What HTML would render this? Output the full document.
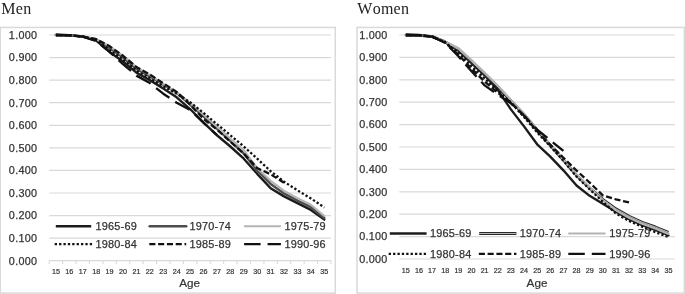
<!DOCTYPE html>
<html lang="en"><head><meta charset="utf-8"><title>Men / Women</title>
<style>
html,body{margin:0;padding:0;background:#fff;}
body{width:685px;height:294px;overflow:hidden;}
svg{display:block}
.t{font-family:"Liberation Serif",serif;font-size:16px;fill:#222;font-kerning:none;letter-spacing:0.25px;}
.yl{font-family:"Liberation Sans",sans-serif;font-size:10.8px;fill:#333;letter-spacing:0.3px;stroke:#333;stroke-width:0.25px;}
.al{font-family:"Liberation Sans",sans-serif;font-size:7.2px;fill:#333;stroke:#333;stroke-width:0.2px;}
.at{font-family:"Liberation Sans",sans-serif;font-size:11.7px;fill:#333;stroke:#333;stroke-width:0.2px;}
.lg{font-family:"Liberation Sans",sans-serif;font-size:10.9px;fill:#333;stroke:#333;stroke-width:0.25px;letter-spacing:0.2px;}
</style></head><body>
<svg width="685" height="294" viewBox="0 0 685 294">
<rect width="685" height="294" fill="#fff"/>
<text x="1.3" y="13.6" class="t">Men</text>
<text x="357.3" y="13.7" class="t">Women</text>
<rect x="0.3" y="27.45" width="335.0" height="265.65000000000003" fill="#fff" stroke="#d9d9d9" stroke-width="1.5"/>
<line x1="49.2" y1="35.00" x2="331.0" y2="35.00" stroke="#d9d9d9" stroke-width="1.2"/>
<text x="37.4" y="38.85" text-anchor="end" class="yl">1.000</text>
<line x1="49.2" y1="57.57" x2="331.0" y2="57.57" stroke="#d9d9d9" stroke-width="1.2"/>
<text x="37.4" y="61.42" text-anchor="end" class="yl">0.900</text>
<line x1="49.2" y1="80.14" x2="331.0" y2="80.14" stroke="#d9d9d9" stroke-width="1.2"/>
<text x="37.4" y="83.99" text-anchor="end" class="yl">0.800</text>
<line x1="49.2" y1="102.71" x2="331.0" y2="102.71" stroke="#d9d9d9" stroke-width="1.2"/>
<text x="37.4" y="106.56" text-anchor="end" class="yl">0.700</text>
<line x1="49.2" y1="125.28" x2="331.0" y2="125.28" stroke="#d9d9d9" stroke-width="1.2"/>
<text x="37.4" y="129.13" text-anchor="end" class="yl">0.600</text>
<line x1="49.2" y1="147.85" x2="331.0" y2="147.85" stroke="#d9d9d9" stroke-width="1.2"/>
<text x="37.4" y="151.70" text-anchor="end" class="yl">0.500</text>
<line x1="49.2" y1="170.42" x2="331.0" y2="170.42" stroke="#d9d9d9" stroke-width="1.2"/>
<text x="37.4" y="174.27" text-anchor="end" class="yl">0.400</text>
<line x1="49.2" y1="192.99" x2="331.0" y2="192.99" stroke="#d9d9d9" stroke-width="1.2"/>
<text x="37.4" y="196.84" text-anchor="end" class="yl">0.300</text>
<line x1="49.2" y1="215.56" x2="331.0" y2="215.56" stroke="#d9d9d9" stroke-width="1.2"/>
<text x="37.4" y="219.41" text-anchor="end" class="yl">0.200</text>
<line x1="49.2" y1="238.13" x2="331.0" y2="238.13" stroke="#d9d9d9" stroke-width="1.2"/>
<text x="37.4" y="241.98" text-anchor="end" class="yl">0.100</text>
<line x1="49.2" y1="260.70" x2="331.0" y2="260.70" stroke="#d9d9d9" stroke-width="1.2"/>
<text x="37.4" y="264.55" text-anchor="end" class="yl">0.000</text>
<line x1="49.20" y1="260.7" x2="49.20" y2="263.9" stroke="#d9d9d9" stroke-width="1.1"/>
<line x1="62.62" y1="260.7" x2="62.62" y2="263.9" stroke="#d9d9d9" stroke-width="1.1"/>
<line x1="76.04" y1="260.7" x2="76.04" y2="263.9" stroke="#d9d9d9" stroke-width="1.1"/>
<line x1="89.46" y1="260.7" x2="89.46" y2="263.9" stroke="#d9d9d9" stroke-width="1.1"/>
<line x1="102.88" y1="260.7" x2="102.88" y2="263.9" stroke="#d9d9d9" stroke-width="1.1"/>
<line x1="116.30" y1="260.7" x2="116.30" y2="263.9" stroke="#d9d9d9" stroke-width="1.1"/>
<line x1="129.71" y1="260.7" x2="129.71" y2="263.9" stroke="#d9d9d9" stroke-width="1.1"/>
<line x1="143.13" y1="260.7" x2="143.13" y2="263.9" stroke="#d9d9d9" stroke-width="1.1"/>
<line x1="156.55" y1="260.7" x2="156.55" y2="263.9" stroke="#d9d9d9" stroke-width="1.1"/>
<line x1="169.97" y1="260.7" x2="169.97" y2="263.9" stroke="#d9d9d9" stroke-width="1.1"/>
<line x1="183.39" y1="260.7" x2="183.39" y2="263.9" stroke="#d9d9d9" stroke-width="1.1"/>
<line x1="196.81" y1="260.7" x2="196.81" y2="263.9" stroke="#d9d9d9" stroke-width="1.1"/>
<line x1="210.23" y1="260.7" x2="210.23" y2="263.9" stroke="#d9d9d9" stroke-width="1.1"/>
<line x1="223.65" y1="260.7" x2="223.65" y2="263.9" stroke="#d9d9d9" stroke-width="1.1"/>
<line x1="237.07" y1="260.7" x2="237.07" y2="263.9" stroke="#d9d9d9" stroke-width="1.1"/>
<line x1="250.49" y1="260.7" x2="250.49" y2="263.9" stroke="#d9d9d9" stroke-width="1.1"/>
<line x1="263.90" y1="260.7" x2="263.90" y2="263.9" stroke="#d9d9d9" stroke-width="1.1"/>
<line x1="277.32" y1="260.7" x2="277.32" y2="263.9" stroke="#d9d9d9" stroke-width="1.1"/>
<line x1="290.74" y1="260.7" x2="290.74" y2="263.9" stroke="#d9d9d9" stroke-width="1.1"/>
<line x1="304.16" y1="260.7" x2="304.16" y2="263.9" stroke="#d9d9d9" stroke-width="1.1"/>
<line x1="317.58" y1="260.7" x2="317.58" y2="263.9" stroke="#d9d9d9" stroke-width="1.1"/>
<line x1="331.00" y1="260.7" x2="331.00" y2="263.9" stroke="#d9d9d9" stroke-width="1.1"/>
<text x="55.91" y="274.2" text-anchor="middle" class="al">15</text>
<text x="69.33" y="274.2" text-anchor="middle" class="al">16</text>
<text x="82.75" y="274.2" text-anchor="middle" class="al">17</text>
<text x="96.17" y="274.2" text-anchor="middle" class="al">18</text>
<text x="109.59" y="274.2" text-anchor="middle" class="al">19</text>
<text x="123.00" y="274.2" text-anchor="middle" class="al">20</text>
<text x="136.42" y="274.2" text-anchor="middle" class="al">21</text>
<text x="149.84" y="274.2" text-anchor="middle" class="al">22</text>
<text x="163.26" y="274.2" text-anchor="middle" class="al">23</text>
<text x="176.68" y="274.2" text-anchor="middle" class="al">24</text>
<text x="190.10" y="274.2" text-anchor="middle" class="al">25</text>
<text x="203.52" y="274.2" text-anchor="middle" class="al">26</text>
<text x="216.94" y="274.2" text-anchor="middle" class="al">27</text>
<text x="230.36" y="274.2" text-anchor="middle" class="al">28</text>
<text x="243.78" y="274.2" text-anchor="middle" class="al">29</text>
<text x="257.20" y="274.2" text-anchor="middle" class="al">30</text>
<text x="270.61" y="274.2" text-anchor="middle" class="al">31</text>
<text x="284.03" y="274.2" text-anchor="middle" class="al">32</text>
<text x="297.45" y="274.2" text-anchor="middle" class="al">33</text>
<text x="310.87" y="274.2" text-anchor="middle" class="al">34</text>
<text x="324.29" y="274.2" text-anchor="middle" class="al">35</text>
<text x="189.7" y="287.4" text-anchor="middle" class="at">Age</text>
<path d="M55.91 35.00 L69.33 35.23 L82.75 36.58 L96.17 40.64 L109.59 51.93 L123.00 61.41 L136.42 72.69 L149.84 80.14 L163.26 88.49 L176.68 97.29 L190.10 109.03 L203.52 122.57 L216.94 135.21 L230.36 146.50 L243.78 158.68 L257.20 173.81 L270.61 188.25 L284.03 196.38 L297.45 203.15 L310.87 209.92 L324.29 219.62" fill="none" stroke="#1c1c1c" stroke-width="2.4" stroke-linejoin="round" stroke-linecap="round"/>
<path d="M55.91 35.00 L69.33 35.23 L82.75 36.58 L96.17 39.51 L109.59 48.09 L123.00 57.57 L136.42 68.85 L149.84 76.30 L163.26 84.65 L176.68 92.78 L190.10 104.52 L203.52 116.25 L216.94 128.67 L230.36 141.08 L243.78 153.49 L257.20 170.42 L270.61 183.96 L284.03 193.44 L297.45 200.66 L310.87 207.21 L324.29 218.04" fill="none" stroke="#4d4d4d" stroke-width="2.5" stroke-linejoin="round" stroke-linecap="round"/>
<path d="M55.91 35.00 L69.33 35.23 L82.75 36.58 L96.17 39.06 L109.59 46.28 L123.00 55.76 L136.42 67.05 L149.84 74.95 L163.26 84.20 L176.68 92.33 L190.10 103.16 L203.52 114.45 L216.94 126.63 L230.36 138.82 L243.78 150.11 L257.20 168.16 L270.61 180.80 L284.03 190.96 L297.45 198.18 L310.87 204.73 L324.29 216.01" fill="none" stroke="#b4b4b4" stroke-width="2.1" stroke-linejoin="round" stroke-linecap="round"/>
<path d="M55.91 35.00 L69.33 35.23 L82.75 36.58 L96.17 39.97 L109.59 49.90 L123.00 59.38 L136.42 70.66 L149.84 78.11 L163.26 86.23 L176.68 93.68 L190.10 102.26 L203.52 112.87 L216.94 124.15 L230.36 135.21 L243.78 146.50 L257.20 158.68 L270.61 171.10 L284.03 181.70 L297.45 190.28 L310.87 198.41 L324.29 207.43" fill="none" stroke="#111" stroke-width="2.3" stroke-dasharray="2.3 2.08" stroke-linecap="butt" stroke-linejoin="round"/>
<path d="M55.91 35.00 L69.33 35.23 L82.75 36.58 L96.17 39.06 L109.59 46.28 L123.00 55.76 L136.42 67.05 L149.84 74.50 L163.26 83.30 L176.68 91.88 L190.10 104.52 L203.52 118.96 L216.94 129.57 L230.36 141.76 L243.78 153.49 L257.20 168.16 L270.61 174.26 L284.03 182.83" fill="none" stroke="#111" stroke-width="2.3" stroke-dasharray="6.1 2.7" stroke-linecap="butt" stroke-linejoin="round"/>
<path d="M55.91 35.00 L69.33 35.23 L82.75 36.58 L96.17 41.09 L109.59 51.93 L123.00 64.12 L136.42 75.63 L149.84 83.07 L163.26 93.68 L176.68 102.71 L190.10 109.93 L203.52 122.57 L216.94 135.21" fill="none" stroke="#111" stroke-width="2.3" stroke-dasharray="16.5 7" stroke-linecap="butt" stroke-linejoin="round"/>
<path d="M55.8 226.3 L91.2 226.3" fill="none" stroke="#1c1c1c" stroke-width="2.4" stroke-linejoin="round" stroke-linecap="butt"/>
<text x="95.6" y="230.20" class="lg">1965-69</text>
<path d="M149.7 226.3 L186.2 226.3" fill="none" stroke="#4d4d4d" stroke-width="2.5" stroke-linejoin="round" stroke-linecap="round"/>
<text x="189.6" y="230.20" class="lg">1970-74</text>
<path d="M244.1 226.3 L280.9 226.3" fill="none" stroke="#b4b4b4" stroke-width="2.1" stroke-linejoin="round" stroke-linecap="butt"/>
<text x="284.4" y="230.20" class="lg">1975-79</text>
<path d="M54.699999999999996 244.1 L92.10000000000001 244.1" fill="none" stroke="#111" stroke-width="2.3" stroke-dasharray="2.3 2.08" stroke-linecap="butt" stroke-linejoin="round"/>
<text x="95.6" y="248.00" class="lg">1980-84</text>
<path d="M149.29999999999998 244.1 L186.2 244.1" fill="none" stroke="#111" stroke-width="2.3" stroke-dasharray="6.1 2.7" stroke-linecap="butt" stroke-linejoin="round"/>
<text x="189.6" y="248.00" class="lg">1985-89</text>
<path d="M244.1 244.1 L280.9 244.1" fill="none" stroke="#111" stroke-width="2.3" stroke-dasharray="16.5 7" stroke-linecap="butt" stroke-linejoin="round"/>
<text x="284.4" y="248.00" class="lg">1990-96</text>
<rect x="357.0" y="27.45" width="327.29999999999995" height="265.65000000000003" fill="#fff" stroke="#d9d9d9" stroke-width="1.5"/>
<line x1="399.3" y1="35.00" x2="675.0" y2="35.00" stroke="#d9d9d9" stroke-width="1.2"/>
<text x="387.7" y="38.85" text-anchor="end" class="yl">1.000</text>
<line x1="399.3" y1="57.40" x2="675.0" y2="57.40" stroke="#d9d9d9" stroke-width="1.2"/>
<text x="387.7" y="61.25" text-anchor="end" class="yl">0.900</text>
<line x1="399.3" y1="79.80" x2="675.0" y2="79.80" stroke="#d9d9d9" stroke-width="1.2"/>
<text x="387.7" y="83.65" text-anchor="end" class="yl">0.800</text>
<line x1="399.3" y1="102.20" x2="675.0" y2="102.20" stroke="#d9d9d9" stroke-width="1.2"/>
<text x="387.7" y="106.05" text-anchor="end" class="yl">0.700</text>
<line x1="399.3" y1="124.60" x2="675.0" y2="124.60" stroke="#d9d9d9" stroke-width="1.2"/>
<text x="387.7" y="128.45" text-anchor="end" class="yl">0.600</text>
<line x1="399.3" y1="147.00" x2="675.0" y2="147.00" stroke="#d9d9d9" stroke-width="1.2"/>
<text x="387.7" y="150.85" text-anchor="end" class="yl">0.500</text>
<line x1="399.3" y1="169.40" x2="675.0" y2="169.40" stroke="#d9d9d9" stroke-width="1.2"/>
<text x="387.7" y="173.25" text-anchor="end" class="yl">0.400</text>
<line x1="399.3" y1="191.80" x2="675.0" y2="191.80" stroke="#d9d9d9" stroke-width="1.2"/>
<text x="387.7" y="195.65" text-anchor="end" class="yl">0.300</text>
<line x1="399.3" y1="214.20" x2="675.0" y2="214.20" stroke="#d9d9d9" stroke-width="1.2"/>
<text x="387.7" y="218.05" text-anchor="end" class="yl">0.200</text>
<line x1="399.3" y1="236.60" x2="675.0" y2="236.60" stroke="#d9d9d9" stroke-width="1.2"/>
<text x="387.7" y="240.45" text-anchor="end" class="yl">0.100</text>
<line x1="399.3" y1="259.00" x2="675.0" y2="259.00" stroke="#d9d9d9" stroke-width="1.2"/>
<text x="387.7" y="262.85" text-anchor="end" class="yl">0.000</text>
<text x="405.86" y="272.8" text-anchor="middle" class="al">15</text>
<text x="418.99" y="272.8" text-anchor="middle" class="al">16</text>
<text x="432.12" y="272.8" text-anchor="middle" class="al">17</text>
<text x="445.25" y="272.8" text-anchor="middle" class="al">18</text>
<text x="458.38" y="272.8" text-anchor="middle" class="al">19</text>
<text x="471.51" y="272.8" text-anchor="middle" class="al">20</text>
<text x="484.64" y="272.8" text-anchor="middle" class="al">21</text>
<text x="497.76" y="272.8" text-anchor="middle" class="al">22</text>
<text x="510.89" y="272.8" text-anchor="middle" class="al">23</text>
<text x="524.02" y="272.8" text-anchor="middle" class="al">24</text>
<text x="537.15" y="272.8" text-anchor="middle" class="al">25</text>
<text x="550.28" y="272.8" text-anchor="middle" class="al">26</text>
<text x="563.41" y="272.8" text-anchor="middle" class="al">27</text>
<text x="576.54" y="272.8" text-anchor="middle" class="al">28</text>
<text x="589.66" y="272.8" text-anchor="middle" class="al">29</text>
<text x="602.79" y="272.8" text-anchor="middle" class="al">30</text>
<text x="615.92" y="272.8" text-anchor="middle" class="al">31</text>
<text x="629.05" y="272.8" text-anchor="middle" class="al">32</text>
<text x="642.18" y="272.8" text-anchor="middle" class="al">33</text>
<text x="655.31" y="272.8" text-anchor="middle" class="al">34</text>
<text x="668.44" y="272.8" text-anchor="middle" class="al">35</text>
<text x="537.0" y="287.4" text-anchor="middle" class="at">Age</text>
<path d="M405.86 35.00 L418.99 35.22 L432.12 36.57 L445.25 42.17 L458.38 50.68 L471.51 63.00 L484.64 75.32 L497.76 89.88 L510.89 109.37 L524.02 126.39 L537.15 144.31 L550.28 156.63 L563.41 170.30 L576.54 185.53 L589.66 195.83 L602.79 203.67 L615.92 211.74 L629.05 219.13 L642.18 225.18 L655.31 229.88 L668.44 235.26" fill="none" stroke="#1c1c1c" stroke-width="2.4" stroke-linejoin="round" stroke-linecap="round"/>
<path d="M405.86 35.00 L418.99 35.22 L432.12 36.57 L445.25 41.94 L458.38 49.56 L471.51 61.66 L484.64 73.98 L497.76 86.74 L510.89 100.86 L524.02 114.52 L537.15 130.20 L550.28 145.21 L563.41 159.99 L576.54 175.22 L589.66 187.99 L602.79 199.42 L615.92 208.82 L629.05 216.22 L642.18 222.26 L655.31 226.97 L668.44 232.34" fill="none" stroke="#2a2a2a" stroke-width="2.9" stroke-linejoin="round" stroke-linecap="butt"/><path d="M405.86 35.00 L418.99 35.22 L432.12 36.57 L445.25 41.94 L458.38 49.56 L471.51 61.66 L484.64 73.98 L497.76 86.74 L510.89 100.86 L524.02 114.52 L537.15 130.20 L550.28 145.21 L563.41 159.99 L576.54 175.22 L589.66 187.99 L602.79 199.42 L615.92 208.82 L629.05 216.22 L642.18 222.26 L655.31 226.97 L668.44 232.34" fill="none" stroke="#c8c8c8" stroke-width="0.9" stroke-linejoin="round" stroke-linecap="butt"/>
<path d="M405.86 35.00 L418.99 35.22 L432.12 36.57 L445.25 41.72 L458.38 47.99 L471.51 60.09 L484.64 72.63 L497.76 85.40 L510.89 99.96 L524.02 113.85 L537.15 129.53 L550.28 144.76 L563.41 159.54 L576.54 174.78 L589.66 187.54 L602.79 200.09 L615.92 210.39 L629.05 217.78 L642.18 223.83 L655.31 228.54 L668.44 233.91" fill="none" stroke="#b4b4b4" stroke-width="2.1" stroke-linejoin="round" stroke-linecap="round"/>
<path d="M405.86 35.00 L418.99 35.22 L432.12 36.57 L445.25 42.39 L458.38 52.92 L471.51 65.91 L484.64 78.46 L497.76 90.55 L510.89 102.42 L524.02 116.98 L537.15 132.44 L550.28 146.33 L563.41 160.89 L576.54 176.57 L589.66 189.34 L602.79 201.66 L615.92 213.53 L629.05 220.92 L642.18 226.74 L655.31 232.12 L668.44 237.05" fill="none" stroke="#111" stroke-width="2.3" stroke-dasharray="2.3 2.08" stroke-linecap="butt" stroke-linejoin="round"/>
<path d="M405.86 35.00 L418.99 35.22 L432.12 36.57 L445.25 42.62 L458.38 54.71 L471.51 68.60 L484.64 81.59 L497.76 92.79 L510.89 102.65 L524.02 115.64 L537.15 131.32 L550.28 144.76 L563.41 157.75 L576.54 170.52 L589.66 182.62 L602.79 195.38 L615.92 199.42 L629.05 202.33" fill="none" stroke="#111" stroke-width="2.3" stroke-dasharray="6.1 2.7" stroke-linecap="butt" stroke-linejoin="round"/>
<path d="M405.86 35.00 L418.99 35.22 L432.12 36.57 L445.25 42.84 L458.38 56.28 L471.51 71.29 L484.64 85.40 L497.76 94.81 L510.89 103.32 L524.02 115.64 L537.15 129.53 L550.28 140.28 L563.41 150.81" fill="none" stroke="#111" stroke-width="2.3" stroke-dasharray="16.5 7" stroke-linecap="butt" stroke-linejoin="round"/>
<path d="M389.8 233.5 L426.6 233.5" fill="none" stroke="#1c1c1c" stroke-width="2.4" stroke-linejoin="round" stroke-linecap="butt"/>
<text x="430.1" y="237.40" class="lg">1965-69</text>
<path d="M479.2 233.5 L516.4 233.5" fill="none" stroke="#2a2a2a" stroke-width="2.9" stroke-linejoin="round" stroke-linecap="butt"/><path d="M479.2 233.5 L516.4 233.5" fill="none" stroke="#c8c8c8" stroke-width="0.9" stroke-linejoin="round" stroke-linecap="butt"/>
<text x="519.8" y="237.40" class="lg">1970-74</text>
<path d="M568.3 233.5 L605.5 233.5" fill="none" stroke="#b4b4b4" stroke-width="2.1" stroke-linejoin="round" stroke-linecap="butt"/>
<text x="609.2" y="237.40" class="lg">1975-79</text>
<path d="M388.7 253.8 L427.5 253.8" fill="none" stroke="#111" stroke-width="2.3" stroke-dasharray="2.3 2.08" stroke-linecap="butt" stroke-linejoin="round"/>
<text x="430.1" y="257.70" class="lg">1980-84</text>
<path d="M478.8 253.8 L516.4 253.8" fill="none" stroke="#111" stroke-width="2.3" stroke-dasharray="6.1 2.7" stroke-linecap="butt" stroke-linejoin="round"/>
<text x="519.8" y="257.70" class="lg">1985-89</text>
<path d="M568.3 253.8 L605.5 253.8" fill="none" stroke="#111" stroke-width="2.3" stroke-dasharray="16.5 7" stroke-linecap="butt" stroke-linejoin="round"/>
<text x="609.2" y="257.70" class="lg">1990-96</text>
</svg>
</body></html>
